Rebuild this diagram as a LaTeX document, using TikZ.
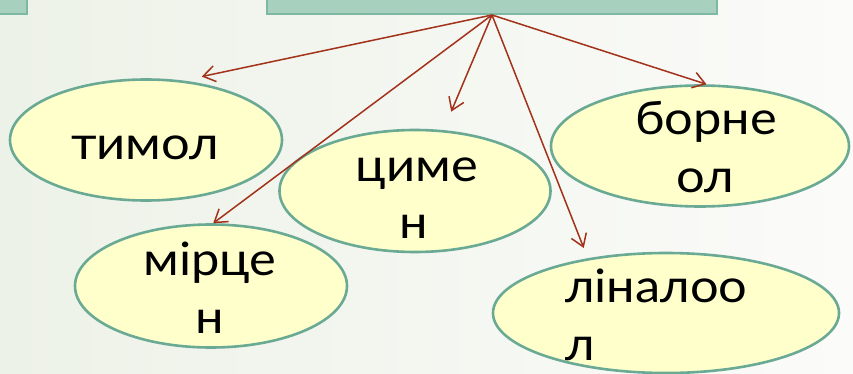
\documentclass[tikz,border=0pt]{standalone}
\usepackage{fontspec}
\setmainfont[FakeStretch=1.1]{Lato}
\usetikzlibrary{shapes.geometric,arrows.meta}
\definecolor{bgl}{HTML}{EDF2E8}
\definecolor{bgr}{HTML}{FBFBF9}
\definecolor{boxfill}{HTML}{A8D0BF}
\definecolor{boxline}{HTML}{7DB9A2}
\definecolor{ellfill}{HTML}{FFFFCC}
\definecolor{ellline}{HTML}{6AAA94}
\definecolor{arr}{HTML}{A3321B}
\tikzset{
  ell/.style={ellipse,draw=ellline,fill=ellfill,line width=2.6pt,inner sep=0pt},
  topbox/.style={rectangle,draw=boxline,fill=boxfill,line width=2pt,inner sep=0pt},
  lbl/.style={anchor=base,inner sep=0pt,font=\fontsize{46}{57}\selectfont},
  conn/.style={draw=arr,line width=1.5pt,-{Straight Barb[length=12pt,width=16pt,line width=1.5pt]}}
}
\begin{document}
\begin{tikzpicture}[x=1pt,y=-1pt]
\useasboundingbox (0,0) rectangle (853,374);
\shade[left color=bgl,right color=bgr] (0,0) rectangle (853,374);
% top boxes
\node[topbox,minimum width=450pt,minimum height=40pt] (main) at (492,-6) {};
\node[topbox,minimum width=60pt,minimum height=40pt] (side) at (-3,-6) {};
% ellipses
\node[ell,minimum width=272pt,minimum height=121pt] (timol) at (146,140) {};
\node[ell,minimum width=271pt,minimum height=122pt] (cimen) at (415,191) {};
\node[ell,minimum width=298pt,minimum height=121pt] (born) at (700,146) {};
\node[ell,minimum width=272pt,minimum height=123pt] (mirc) at (211,286) {};
\node[ell,minimum width=346pt,minimum height=120pt] (lin) at (666,313) {};
% labels
\node[lbl] (timolt) at (145,160) {тимол};
\node[lbl] (cimena) at (417,182) {циме};
\node[lbl] (cimenb) at (414,238) {н};
\node[lbl] (borna) at (706,135) {борне};
\node[lbl] (bornb) at (705,192) {ол};
\node[lbl] (mirca) at (210,275) {мірце};
\node[lbl] (mircb) at (210,333) {н};
\node[lbl,anchor=base west] (lina) at (565,302) {ліналоо};
\node[lbl,anchor=base west] (linb) at (565,360) {л};
% connectors
\draw[conn,shorten >=19pt] (main.south) -- (timol.58);
\draw[conn] (main.south) -- (mirc.88);
\draw[conn,shorten >=20pt] (main.south) -- (cimen.65);
\draw[conn,shorten >=11pt] (main.south) -- (lin.145);
\draw[conn] (main.south) -- (born.84);
\end{tikzpicture}
\end{document}
